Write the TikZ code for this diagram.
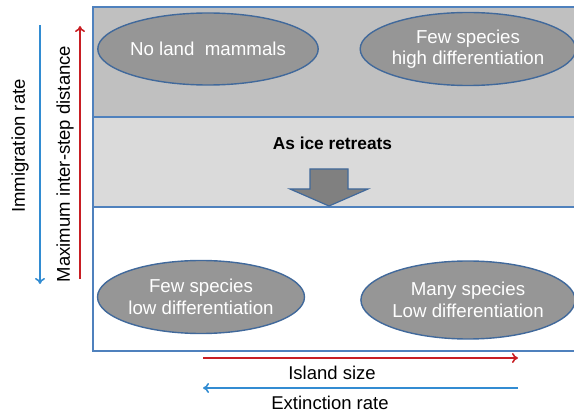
\documentclass[tikz,border=0pt]{standalone}
\usepackage{fontspec}
\setmainfont{Liberation Sans}
\usetikzlibrary{shapes.geometric,arrows.meta}

\definecolor{boxblue}{RGB}{79,129,189}
\definecolor{ringblue}{RGB}{65,105,155}
\definecolor{arrowblue}{RGB}{50,140,210}
\definecolor{arrowred}{RGB}{200,30,35}
\definecolor{topgray}{RGB}{192,192,192}
\definecolor{midgray}{RGB}{218,218,218}
\definecolor{ovalgray}{RGB}{150,150,150}

\begin{document}
\begin{tikzpicture}[x=1pt,y=-1pt,
	oval/.style={ellipse, draw=ringblue, line width=1.4pt, fill=ovalgray, text=white,
		inner sep=0pt, align=center, font=\fontsize{18.7}{21.6}\selectfont},
	band/.style={draw=boxblue, line width=1.3pt},
	axis/.style={line width=1.6pt, -{To[length=6pt,width=10pt]}},
	label/.style={font=\fontsize{18.5}{21}\selectfont}]
	\useasboundingbox (0,0) rectangle (574,414);
	
	% the three bands
	\fill[topgray] (93,7) rectangle (576,117);
	\fill[midgray] (93,117) rectangle (576,207);
	\draw[band] (93,117) -- (576,117);
	\draw[band] (93,207) -- (576,207);
	\draw[band] (576,7) -- (93,7) -- (93,351) -- (576,351);
	
	\node[oval, minimum width=207pt, minimum height=72pt] (nomammals) at (208,49) {No land\ \ mammals};
	\node[oval, minimum width=195pt, minimum height=73pt] (fewhigh) at (468,49) {Few species\\high differentiation};
	\node[oval, minimum width=207pt, minimum height=73pt] (fewlow) at (201,297) {Few species\\low differentiation};
	\node[oval, minimum width=206pt, minimum height=78pt] (manylow) at (468,300) {Many species\\Low differentiation};
	
	\node[font=\fontsize{17.3}{20}\selectfont\bfseries] (ice) at (332.5,143) {As ice retreats};
	% block arrow
	\draw[draw=ringblue, line width=1.2pt, fill=gray, line join=miter]
		(310,169) -- (348,169) -- (348,189) -- (368,189) -- (329,206)
		-- (290,189) -- (310,189) -- cycle;
	
	% axes
	\coordinate (imtop) at (40,25);
	\coordinate (imbot) at (40,284);
	\coordinate (mxbot) at (80,279);
	\coordinate (mxtop) at (80,26);
	\coordinate (isleft) at (203,358);
	\coordinate (isright) at (518,358);
	\coordinate (exright) at (518,388);
	\coordinate (exleft) at (203,388);
	\draw[axis, draw=arrowblue] (imtop) -- (imbot);
	\draw[axis, draw=arrowred] (mxbot) -- (mxtop);
	\draw[axis, draw=arrowred] (isleft) -- (isright);
	\draw[axis, draw=arrowblue] (exright) -- (exleft);
	
	\node[label, rotate=90] (immig) at (20,146) {Immigration rate};
	\node[label, rotate=90] (maxdist) at (65,164) {Maximum inter-step distance};
	\node[label] (island) at (332,373) {Island size};
	\node[label] (extinct) at (330,403) {Extinction rate};
\end{tikzpicture}
\end{document}
